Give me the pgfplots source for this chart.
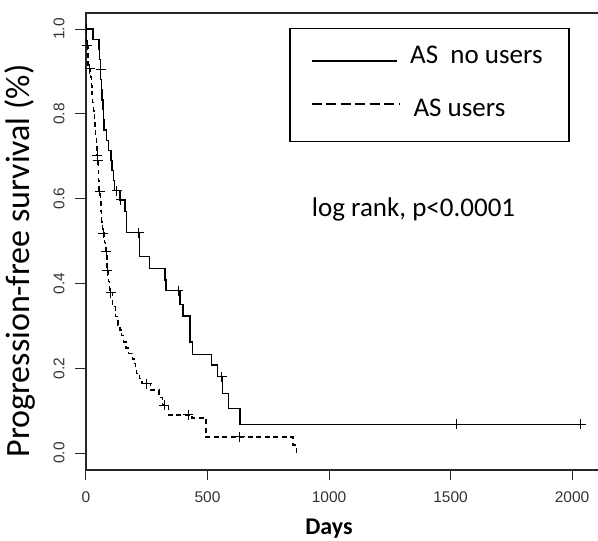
\documentclass[border=0pt]{standalone}
\usepackage{fontspec}
\setmainfont{Carlito}
\newfontfamily\tickfont{Liberation Sans}
\usepackage{pgfplots}
\pgfplotsset{compat=1.18}
\begin{document}
\begin{tikzpicture}
\begin{axis}[
  scale only axis, width=516pt, height=457pt,
  xmin=0, xmax=2123, ymin=-0.040, ymax=1.038,
  axis line style={line width=1.1pt, black!85},
  tick pos=left, major tick length=0pt,
  xtick={0,500,1000,1500,2000},
  xticklabels={0,500,1000,1500,2000},
  ytick={0,0.2,0.4,0.6,0.8,1.0},
  yticklabels={0.0,0.2,0.4,0.6,0.8,1.0},
  tick label style={font=\tickfont\fontsize{15.5}{18}\selectfont, text=black!80},
  xticklabel style={yshift=-18pt},
  yticklabel style={xshift=-18pt, rotate=90, anchor=south},
  xlabel={\bfseries Days},
  xlabel style={at={(rel axis cs:0.471,-0.142)}, anchor=base, font=\fontsize{24}{28}\selectfont},
  ylabel={Progression-free survival (\%)},
  ylabel style={at={(rel axis cs:-0.1094,0.4572)}, anchor=base, font=\fontsize{34}{38}\selectfont},
  clip=false,
  extra description/.code={
    \draw[line width=1pt, black!85]
      (rel axis cs:0,0) -- ++(0pt,-10pt)
      (rel axis cs:0.23552,0) -- ++(0pt,-10pt)
      (rel axis cs:0.47103,0) -- ++(0pt,-10pt)
      (rel axis cs:0.70655,0) -- ++(0pt,-10pt)
      (rel axis cs:0.94206,0) -- ++(0pt,-10pt)
      (rel axis cs:0,0.037106) -- ++(-11pt,0pt)
      (rel axis cs:0,0.22263) -- ++(-11pt,0pt)
      (rel axis cs:0,0.40816) -- ++(-11pt,0pt)
      (rel axis cs:0,0.59369) -- ++(-11pt,0pt)
      (rel axis cs:0,0.77922) -- ++(-11pt,0pt)
      (rel axis cs:0,0.96475) -- ++(-11pt,0pt);
  },
]
% AS no users
\addplot[const plot, black, line width=1.3pt] coordinates {
(0,1.0) (29,0.976) (53,0.952) (56,0.929) (59,0.905) (61,0.881) (63,0.857)
(66,0.833) (70,0.810) (72,0.786) (74,0.762) (85,0.738) (92,0.714) (103,0.690)
(107,0.667) (112,0.643) (118,0.619) (140,0.597) (160,0.569) (167,0.520)
(220,0.463) (260,0.436) (325,0.408) (329,0.383) (387,0.351) (399,0.323)
(428,0.262) (439,0.233) (515,0.208) (540,0.180) (563,0.141) (585,0.105)
(633,0.068) (2036,0.068)};
% AS users
\addplot[const plot, black, line width=1.3pt, dash pattern=on 5pt off 3.5pt] coordinates {
(0,1.0) (3,0.962) (8,0.907) (19,0.887) (22,0.867) (25,0.847) (28,0.827)
(31,0.807) (34,0.787) (37,0.767) (40,0.747) (43,0.727) (45,0.703) (47,0.691)
(50,0.667) (52,0.643) (54,0.617) (59,0.593) (62,0.569) (65,0.545) (69,0.519)
(76,0.497) (81,0.475) (86,0.452) (87,0.430) (92,0.404) (98,0.378) (110,0.345)
(120,0.322) (132,0.302) (140,0.290) (147,0.278) (155,0.262) (165,0.248)
(174,0.235) (190,0.222) (197,0.212) (203,0.200) (208,0.188) (220,0.176)
(230,0.164) (265,0.149) (300,0.131) (315,0.113) (340,0.090) (436,0.083)
(494,0.038) (852,0.019) (866,0.0)};
% censored
\addplot[only marks, mark=+, mark size=5pt, black, mark options={line width=1pt}] coordinates {
(2,1.0) (60,0.905) (126,0.619) (143,0.597) (218,0.520) (379,0.383) (558,0.180)
(1525,0.068) (2036,0.068)};
\addplot[only marks, mark=+, mark size=5pt, black, mark options={line width=1pt}] coordinates {
(1,1.0) (5,0.962) (16,0.907) (46,0.703) (48,0.691) (56,0.617) (71,0.519) (83,0.475)
(88,0.430) (101,0.378) (249,0.164) (321,0.113) (421,0.090) (633,0.038)};
% legend and annotation
\draw[line width=1.4pt, black] (axis cs:839.5,0.7342) rectangle (axis cs:1987.7,1.0017);
\draw[line width=1.3pt] (axis cs:928.8,0.925) -- (axis cs:1281,0.925);
\draw[line width=2pt, dash pattern=on 10pt off 4.5pt] (axis cs:928.8,0.823) -- (axis cs:1291,0.823);
\node[anchor=base west, inner sep=0pt, font=\fontsize{27}{30}\selectfont] at (axis cs:1333,0.919) {AS\ \ no users};
\node[anchor=base west, inner sep=0pt, font=\fontsize{27}{30}\selectfont] at (axis cs:1347,0.793) {AS users};
\node[anchor=base west, inner sep=0pt, font=\fontsize{27}{30}\selectfont] at (axis cs:928.8,0.557) {log rank, p<0.0001};
\coordinate (bl) at (rel axis cs:0,0);
\end{axis}
\pgfresetboundingbox
\path[use as bounding box] ([xshift=-86pt,yshift=-71pt]bl) rectangle ([xshift=512pt,yshift=470pt]bl);
\end{tikzpicture}
\end{document}
